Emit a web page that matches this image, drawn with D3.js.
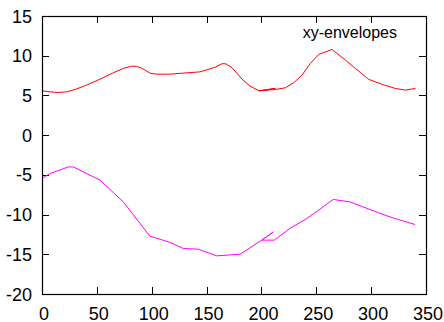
<!DOCTYPE html>
<html>
<head>
<meta charset="utf-8">
<script src="https://cdn.jsdelivr.net/npm/d3@7"></script>
<style>
  html, body { margin: 0; padding: 0; background: #fff; }
  svg { display: block; }
  text { font-family: "Liberation Sans", Arial, Helvetica, sans-serif; }
</style>
</head>
<body>
<svg id="chart" width="444" height="322"></svg>
<script>
// Upper envelope (x, y)
const upperX = [0, 7.3, 14.9, 22.5, 30.1, 40.7, 52.9, 65, 74.1, 81.8, 86.3, 90.9, 95.4, 99.1, 104.5, 116.7, 128.8, 141, 144, 150.1, 157.7, 164.1, 167.7, 173.2, 182.3, 189.6, 197.9, 212.7, 197.9, 212.7, 221.8, 229.4, 237, 244.6, 252.2, 264.3, 276.5, 285.6, 297.8, 310, 322, 331.2, 340.3];
const upperY = [5.58, 5.45, 5.37, 5.45, 5.75, 6.3, 7.05, 7.85, 8.4, 8.69, 8.65, 8.44, 8.06, 7.77, 7.68, 7.68, 7.81, 7.93, 7.97, 8.22, 8.53, 9.0, 8.97, 8.5, 7.05, 6.17, 5.58, 5.88, 5.58, 5.75, 5.96, 6.59, 7.56, 9.03, 10.16, 10.79, 9.45, 8.4, 7.02, 6.39, 5.88, 5.67, 5.88];

// Lower envelope (x, y)
const lowerX = [0, 7.3, 24, 28.5, 52.9, 74.1, 98.4, 116.7, 128.8, 142.5, 159.2, 180.5, 200.3, 210.8, 200.3, 211.7, 226, 241.3, 265.5, 280.7, 302, 317.2, 340];
const lowerY = [-5.45, -4.83, -4.0, -4.0, -5.67, -8.4, -12.72, -13.5, -14.27, -14.36, -15.2, -14.99, -13.22, -12.2, -13.22, -13.22, -11.75, -10.5, -8.1, -8.4, -9.53, -10.3, -11.25];

const xTicks = [0, 50, 100, 150, 200, 250, 300, 350];
const yTicks = [15, 10, 5, 0, -5, -10, -15, -20];
const keyTitle = "xy-envelopes";

const svg = d3.select("#chart");
const plotLeft = 42, plotRight = 426, plotTop = 16, plotBottom = 294;
const x = d3.scaleLinear().domain([0, 350]).range([plotLeft, plotRight]);
const y = d3.scaleLinear().domain([-20, 15]).range([plotBottom, plotTop]);
const tickLen = 7;

const g = svg.append("g");

// Inward ticks on all four sides
const ticks = g.append("g").attr("stroke", "#000").attr("stroke-width", 1);
xTicks.forEach(v => {
  const px = Math.round(x(v)) + 0.5;
  ticks.append("line").attr("x1", px).attr("x2", px).attr("y1", plotBottom).attr("y2", plotBottom - tickLen);
  ticks.append("line").attr("x1", px).attr("x2", px).attr("y1", plotTop).attr("y2", plotTop + tickLen);
});
yTicks.forEach(v => {
  const py = Math.round(y(v)) + 0.5;
  ticks.append("line").attr("x1", plotLeft).attr("x2", plotLeft + tickLen).attr("y1", py).attr("y2", py);
  ticks.append("line").attr("x1", plotRight).attr("x2", plotRight - tickLen).attr("y1", py).attr("y2", py);
});

// Tick labels
g.append("g").selectAll("text").data(xTicks).join("text")
  .attr("x", d => x(d) + 2).attr("y", 319.5)
  .attr("text-anchor", "middle").attr("font-size", 18).text(d => d);
g.append("g").selectAll("text").data(yTicks).join("text")
  .attr("x", 32).attr("y", d => y(d) + 6.5)
  .attr("text-anchor", "end").attr("font-size", 18).text(d => d);

// Envelope curves
const line = d3.line().x(d => x(d[0])).y(d => y(d[1]));
g.append("path").datum(d3.zip(upperX, upperY))
  .attr("d", line).attr("fill", "none").attr("stroke", "#ff0000").attr("stroke-width", 1);
g.append("path").datum(d3.zip(lowerX, lowerY))
  .attr("d", line).attr("fill", "none").attr("stroke", "#ff00ff").attr("stroke-width", 1);

// Plot border
g.append("rect").attr("x", plotLeft + 0.5).attr("y", plotTop + 0.5)
  .attr("width", plotRight - plotLeft).attr("height", plotBottom - plotTop)
  .attr("fill", "none").attr("stroke", "#000").attr("stroke-width", 1.2);

// Key title
g.append("text").attr("x", 397).attr("y", 38).attr("text-anchor", "end")
  .attr("font-size", 16).text(keyTitle);
</script>
</body>
</html>
